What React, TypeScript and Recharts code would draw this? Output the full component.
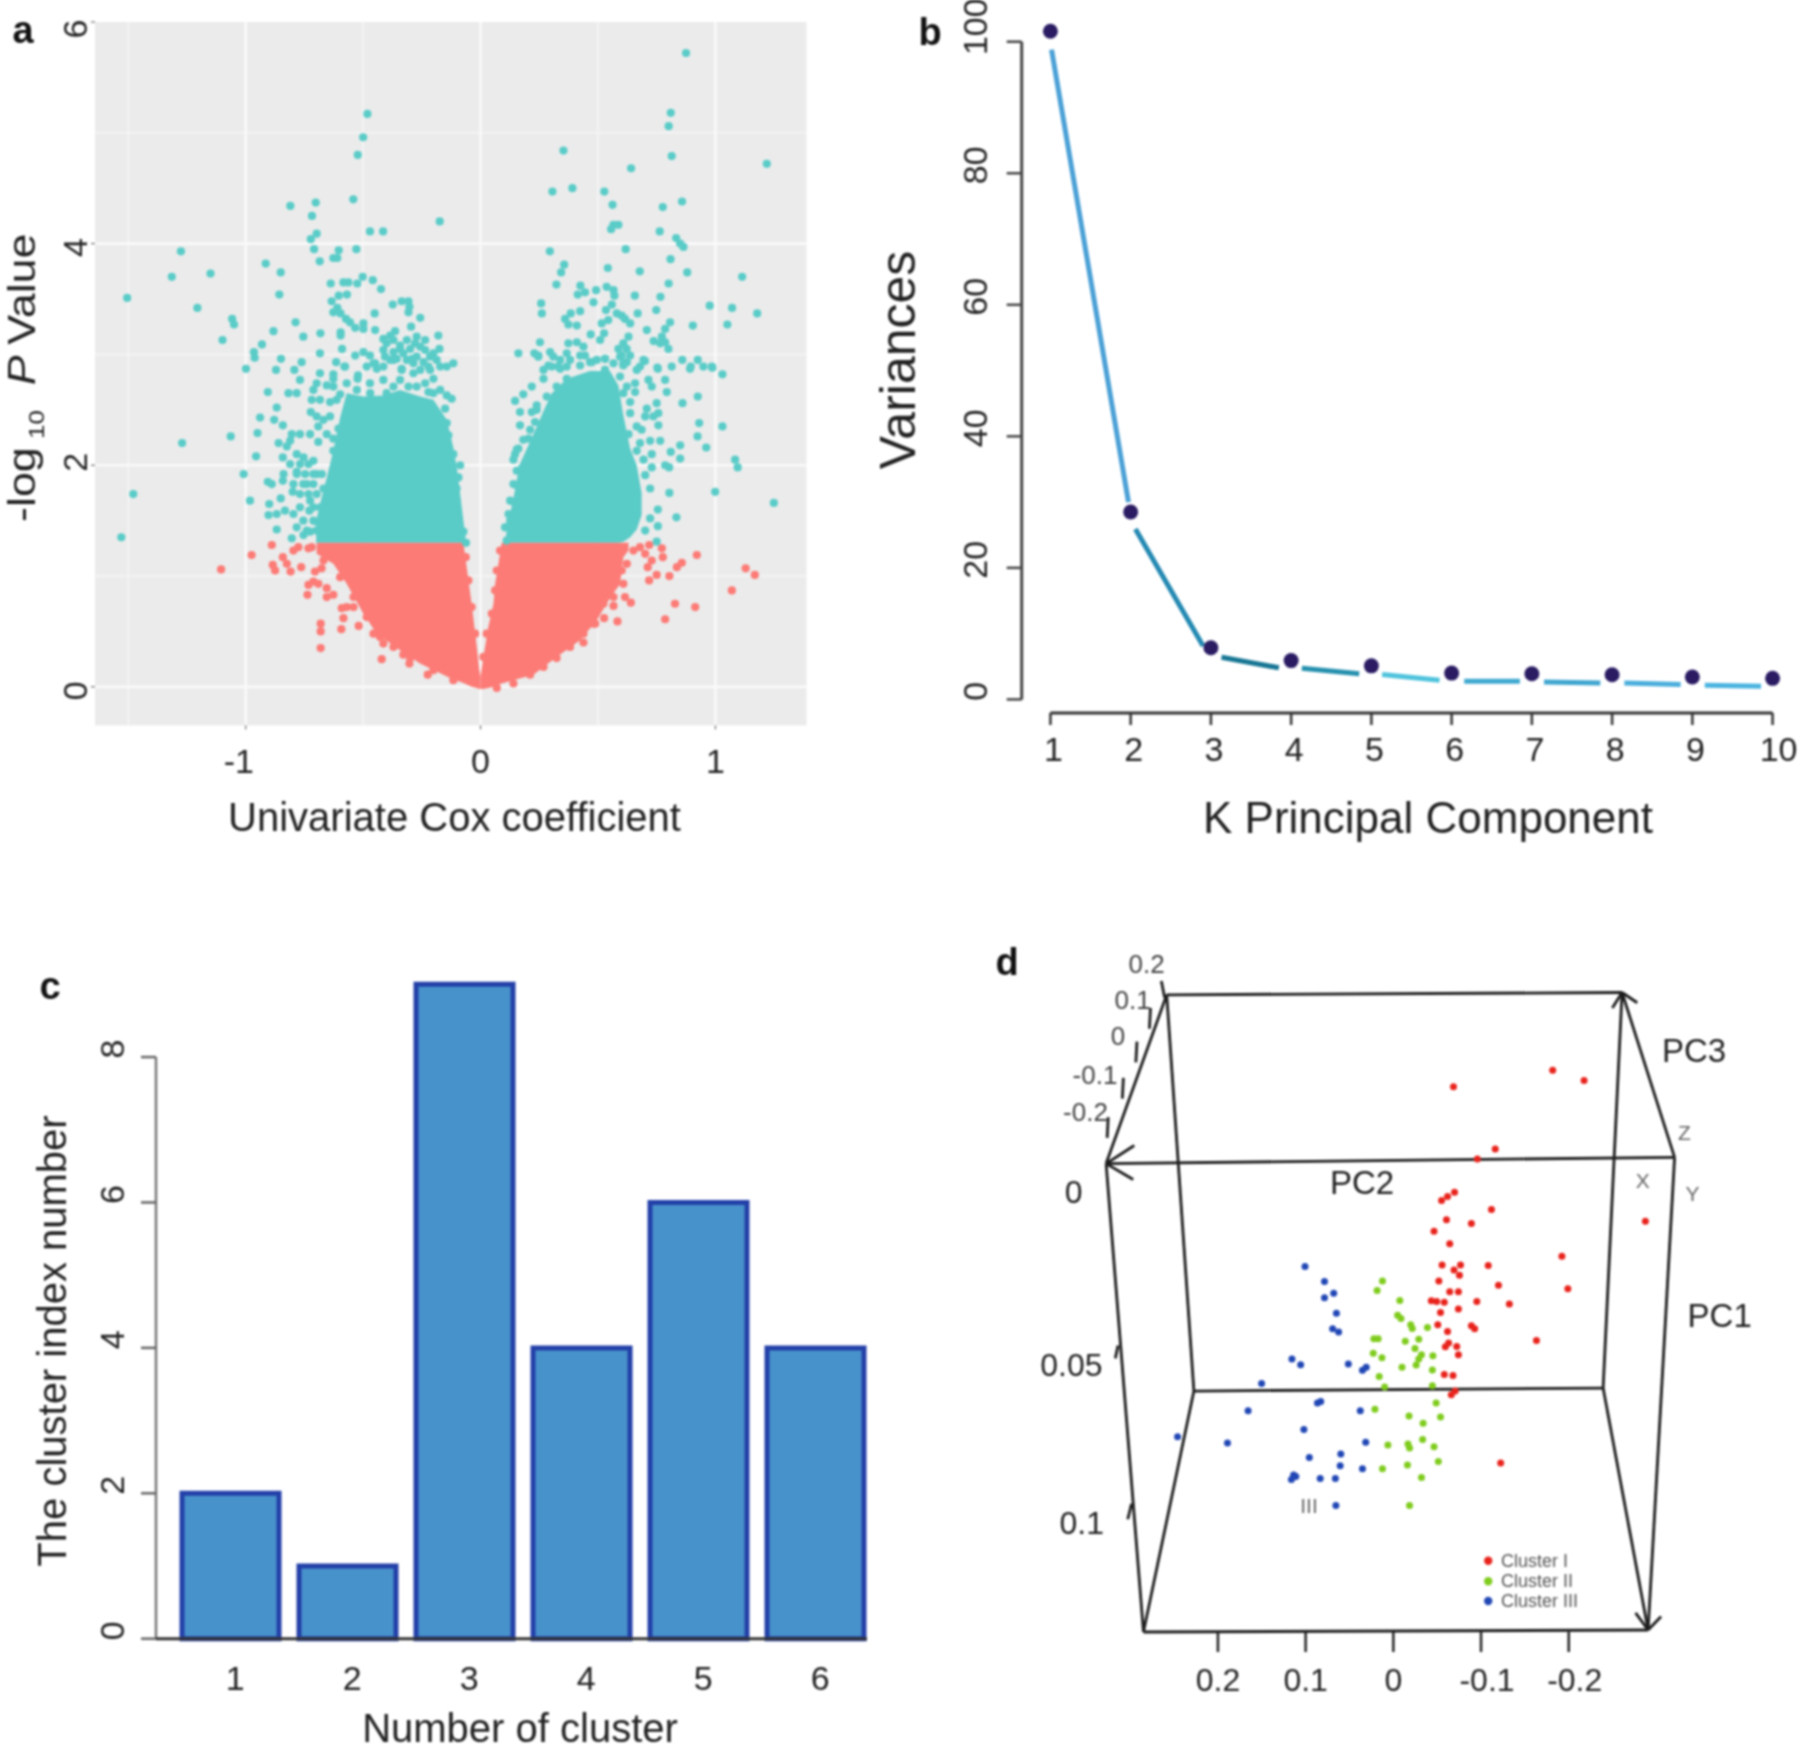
import React from "react"
import { ComposedChart, BarChart, ScatterChart, Area, Bar, Line, Scatter, XAxis, YAxis, CartesianGrid, ReferenceLine } from "recharts"

const FONT = "'Liberation Sans', Arial, sans-serif"

// panel a: sparse points, [coefficient, -log10 p]
const tealLeft = [
  [-0.482,5.17],[-0.5,4.96],[-0.523,4.8],[-0.542,4.4],[-0.81,4.34],[-0.702,4.37],[-0.718,4.25],[-0.174,4.2],[-0.471,4.11],[-0.415,4.11],
  [-0.698,4.09],[-0.723,4.04],[-0.709,3.95],[-0.604,3.94],[-0.627,3.87],[-0.61,3.87],[-0.529,3.95],[-0.685,3.84],[-1.276,3.93],[-1.315,3.7],
  [-1.15,3.73],[-1.505,3.51],[-0.915,3.82],[-0.851,3.74],[-0.857,3.54],[-1.206,3.42],[-1.058,3.32],[-1.05,3.27],[-1.099,3.13],[-0.788,3.29],
  [-0.882,3.21],[-0.755,3.16],[-0.682,3.19],[-0.931,3.09],[-0.965,3.02],[-0.962,2.97],[-0.85,2.96],[-0.762,2.93],[-0.684,3.01],[-0.59,3.05],
  [-0.615,2.93],[-0.58,2.89],[-0.596,3.2],[-0.596,3.17],[-0.999,2.87],[-0.871,2.86],[-0.793,2.86],[-0.638,3.64],[-0.584,3.65],[-0.563,3.65],
  [-0.525,3.64],[-0.502,3.7],[-0.459,3.67],[-0.424,3.59],[-0.604,3.53],[-0.569,3.54],[-0.634,3.48],[-0.61,3.42],[-0.627,3.38],[-0.596,3.37],
  [-0.573,3.32],[-0.556,3.29],[-0.534,3.24],[-0.499,3.28],[-0.499,3.23],[-0.449,3.22],[-0.451,3.37],[-0.374,3.45],[-0.336,3.48],[-0.307,3.48],
  [-0.303,3.43],[-0.307,3.38],[-0.257,3.33],[-0.296,3.25],[-0.364,3.21],[-0.385,3.17],[-0.414,3.14],[-0.18,3.17],[-0.272,3.16],[-0.236,3.13],
  [-0.175,3.05],[-0.534,2.99],[-0.499,3.02],[-0.471,2.99],[-0.449,2.92],[-0.414,3.04],[-0.371,3.02],[-0.343,3.05],[-0.3,3.05],[-0.257,3.07],
  [-0.357,2.96],[-0.314,2.95],[-0.215,2.98],[-0.144,2.89],[-0.286,2.92],[-0.243,2.93],[-0.442,2.87],[-0.336,2.87],[-0.684,2.83],[-0.627,2.82],
  [-0.769,2.77],[-0.906,2.66],[-0.818,2.65],[-0.783,2.65],[-0.712,2.68],[-0.719,2.59],[-0.723,2.48],[-0.868,2.52],[-0.641,2.57],[-0.655,2.72],
  [-0.524,2.78],[-0.939,2.43],[-0.879,2.41],[-0.842,2.36],[-0.95,2.29],[-1.064,2.26],[-1.271,2.2],[-0.804,2.28],[-0.811,2.22],[-0.86,2.2],
  [-0.956,2.08],[-0.842,2.07],[-0.825,2.17],[-0.783,2.1],[-1.009,1.92],[-0.839,1.92],[-0.906,1.85],[-0.889,1.83],[-0.842,1.86],[-1.479,1.74],
  [-0.982,1.68],[-0.8,1.76],[-0.9,1.65],[-0.851,1.7],[-0.903,1.55],[-0.868,1.56],[-0.833,1.59],[-0.797,1.56],[-0.729,1.59],[-0.868,1.42],
  [-0.783,1.44],[-0.804,1.34],[-0.754,1.37],[-0.726,1.4],[-1.53,1.35],[-0.691,2.35],[-0.669,2.41],[-0.627,2.24],[-0.691,2.21],[-0.754,2.07],
  [-0.712,2.04],[-0.783,1.94],[-0.74,1.83],[-0.698,1.92],[-0.726,1.68],[-0.669,1.79],[-0.683,1.62],[-0.698,1.49],[-0.655,1.41],[-0.605,2.33],
  [-0.577,2.38],[-0.563,2.19],[-0.527,2.16],[-0.627,2.71],[-0.598,2.64],[-0.456,2.92],[-0.414,2.89],[-0.371,2.95],[-0.336,2.86],[-0.293,2.96],
  [-0.257,2.86],[-0.201,2.78],[-0.172,2.89],[-0.116,2.92],[-0.236,2.74],[-0.222,2.66],[-0.144,2.63],[-0.123,2.6],[-0.151,2.51],[-0.144,2.38],
  [-0.137,2.27],[-0.137,2.13],[-0.116,2.1],[-0.087,2.0],[-0.13,1.98],[-0.527,2.57],[-0.47,2.65],[-0.414,2.77],[-0.371,2.71],[-0.307,2.71],
  [-0.286,2.83],[-0.485,2.89],[-0.577,2.89],[-0.522,2.81],[-0.094,1.89],[-0.102,1.79],[-0.102,1.68],[-0.102,1.56],[-0.094,1.47],[-0.073,1.4],[-0.062,1.3],
  [-0.811,2.01],[-0.769,2.01],[-0.733,2.01],[-0.783,1.92],[-0.747,1.92],[-0.712,1.92],[-0.676,1.92],[-0.797,1.83],[-0.755,1.83],[-0.712,1.83],
  [-0.769,1.74],[-0.733,1.74],[-0.698,1.74],[-0.769,1.62],[-0.712,1.62],[-0.755,1.5],[-0.712,1.5],[-0.74,1.41],[-0.698,1.41],[-0.769,2.28],
  [-0.726,2.28],[-0.698,2.44],[-0.655,2.28],[-0.627,2.13],[-0.684,2.59],[-0.641,2.44],[-0.613,2.59],[-0.698,2.74],[-0.627,2.78],[-0.57,2.74],
  [-0.527,2.68],[-0.471,2.74],[-0.4,2.65],[-0.343,2.77],[-0.272,2.71],[-0.215,2.86],[-0.172,2.68],[-0.201,2.65],[-0.4,3.1],[-0.371,3.13],
  [-0.343,3.08],[-0.314,3.13],[-0.279,3.1],[-0.236,3.04],[-0.201,3.01],[-0.385,2.95],[-0.329,3.01],[-0.272,2.98],[-0.222,2.89],[-0.187,2.95],[-0.407,2.98],
]
const tealRight = [
  [0.875,5.72],[0.81,5.18],[0.801,5.06],[0.814,4.79],[1.219,4.72],[0.353,4.84],[0.641,4.68],[0.306,4.47],[0.391,4.5],[0.527,4.47],
  [0.562,4.35],[0.858,4.38],[0.776,4.33],[0.566,4.17],[0.587,4.17],[0.556,4.13],[0.763,4.11],[0.833,4.05],[0.85,4.0],[0.864,3.97],
  [0.618,3.95],[0.295,3.93],[0.809,3.86],[0.356,3.81],[0.343,3.74],[0.542,3.78],[0.678,3.75],[0.88,3.74],[1.114,3.7],[0.323,3.63],
  [0.801,3.64],[0.425,3.62],[0.414,3.54],[0.492,3.58],[0.537,3.61],[0.566,3.58],[0.57,3.53],[0.445,3.56],[0.657,3.53],[0.766,3.52],
  [0.481,3.47],[0.258,3.46],[0.261,3.37],[0.559,3.45],[0.534,3.4],[0.976,3.44],[1.071,3.42],[1.178,3.37],[0.424,3.39],[0.384,3.37],
  [0.748,3.4],[0.669,3.37],[0.58,3.37],[0.601,3.35],[0.615,3.32],[0.36,3.32],[0.374,3.27],[0.41,3.26],[0.637,3.28],[0.516,3.28],
  [0.544,3.31],[0.807,3.29],[0.904,3.26],[1.051,3.27],[0.786,3.23],[0.708,3.22],[0.469,3.18],[0.526,3.19],[0.509,3.13],[0.772,3.16],
  [0.737,3.12],[0.765,3.1],[0.786,3.11],[0.8,3.05],[0.253,3.11],[0.161,3.01],[0.229,3.01],[0.246,2.98],[0.296,3.02],[0.31,2.98],
  [0.374,3.1],[0.41,3.11],[0.438,3.07],[0.367,3.01],[0.445,2.99],[0.473,2.93],[0.63,3.16],[0.608,3.1],[0.587,3.05],[0.622,3.05],
  [0.601,2.99],[0.637,2.99],[0.53,2.96],[0.694,2.95],[0.859,2.95],[0.925,2.95],[0.895,2.89],[0.985,2.89],[0.814,2.89],[0.753,2.88],
  [0.289,2.9],[0.331,2.89],[0.608,2.92],[0.679,2.89],[0.892,2.87],[0.949,2.89],[0.987,2.88],[1.03,2.82],[0.755,2.87],[0.786,2.77],
  [0.793,2.66],[0.925,2.62],[0.86,2.56],[0.931,2.38],[1.03,2.35],[0.924,2.26],[0.961,2.16],[0.85,2.18],[0.81,2.12],[0.85,2.06],
  [1.084,2.05],[1.095,1.98],[0.786,2.0],[0.803,1.98],[0.999,1.76],[0.804,1.75],[1.249,1.66],[0.834,1.53],[0.755,1.6],[0.755,1.45],
  [0.722,1.52],[0.701,1.41],[0.75,1.31],[0.722,1.79],[0.729,1.98],[0.701,1.91],[0.729,2.1],[0.765,2.22],[0.757,2.36],[0.757,2.47],
  [0.75,2.56],[0.708,2.51],[0.701,2.44],[0.729,2.71],[0.715,2.77],[0.658,2.74],[0.658,2.66],[0.637,2.57],[0.665,2.86],[0.7,2.94],
  [0.623,2.93],[0.147,2.58],[0.168,2.48],[0.182,2.64],[0.218,2.71],[0.239,2.54],[0.218,2.48],[0.168,2.36],[0.204,2.24],[0.232,2.39],
  [0.268,2.78],[0.303,2.89],[0.339,2.95],[0.246,2.99],[0.147,2.1],[0.161,2.15],[0.14,2.05],[0.154,1.82],[0.14,1.67],[0.126,1.5],
  [0.111,1.44],[0.111,1.32],[0.175,1.97],[0.424,2.99],[0.466,2.93],[0.53,2.96],[0.594,2.98],[0.608,2.9],[0.381,2.95],[0.339,2.87],
  [0.608,2.65],[0.637,2.47],[0.665,2.35],[0.63,2.28],[0.679,2.2],[0.722,2.22],[0.665,2.13],[0.694,2.05],[0.623,2.71],[0.686,2.32],
  [0.736,2.44],[0.594,2.8],[0.268,2.86],[0.367,2.89],[0.424,2.9],[0.495,2.95],[0.566,2.92],[0.53,2.86],[0.154,2.14],[0.182,2.23],
  [0.211,2.32],[0.239,2.5],[0.282,2.62],[0.324,2.71],[0.367,2.78],[0.104,1.44],[0.119,1.56],[0.126,1.68],[0.14,1.83],[0.154,1.95],
]
const redSparse = [
  [-0.889,1.28],[-0.975,1.19],[-1.105,1.06],[-0.842,1.17],[-0.825,1.11],[-0.885,1.1],[-0.875,1.05],[-0.809,1.04],[-0.764,1.08],[-0.797,1.23],
  [-0.776,1.26],[-0.733,1.25],[-0.719,1.26],[-0.705,1.04],[-0.677,1.07],[-0.712,0.95],[-0.733,0.92],[-0.691,0.93],[-0.737,0.83],[-0.655,0.89],
  [-0.655,0.81],[-0.627,0.83],[-0.591,0.71],[-0.57,0.72],[-0.584,0.62],[-0.681,0.57],[-0.681,0.5],[-0.681,0.35],[-0.593,0.52],[-0.519,0.55],
  [-0.421,0.25],[-0.303,0.21],[-0.225,0.11],[-0.414,0.39],[-0.456,0.48],[-0.329,0.29],[-0.541,0.72],[-0.063,1.17],[-0.052,0.96],[-0.038,0.72],[-0.023,0.48],
  [-0.669,1.14],[-0.598,0.99],[-0.541,0.81],[-0.485,0.63],[-0.428,0.45],[-0.371,0.36],[-0.3,0.26],[-0.201,0.15],[-0.116,0.06],
  [0.921,1.19],[0.718,1.28],[0.679,1.26],[0.701,1.2],[0.772,1.25],[0.776,1.17],[0.729,1.14],[0.712,1.08],[0.857,1.12],[0.836,1.08],
  [0.75,1.01],[0.804,1.0],[0.718,0.96],[1.129,1.07],[1.168,1.01],[1.07,0.87],[0.828,0.75],[0.914,0.72],[0.786,0.61],[0.583,0.59],
  [0.615,0.81],[0.64,0.76],[0.566,0.73],[0.526,0.62],[0.488,0.57],[0.438,0.4],[0.608,0.93],[0.623,1.11],
  [0.566,0.81],[0.523,0.75],[0.481,0.57],[0.438,0.48],[0.381,0.36],[0.324,0.26],[0.268,0.18],[0.211,0.11],[0.14,0.03],[0.069,-0.01],
  [0.651,1.23],[0.601,1.05],[0.573,0.93],[0.083,1.23],[0.069,1.05],[0.062,0.87],[0.048,0.66],[0.026,0.48],[0.012,0.27],
]
// outlines of the solid masses: x, lower edge, upper edge
const tealMassLeftX = [-0.7,-0.684,-0.655,-0.627,-0.598,-0.57,-0.499,-0.414,-0.343,-0.257,-0.201,-0.144,-0.116,-0.099,-0.062]
const tealMassLeftHigh = [1.5,1.65,1.89,2.13,2.43,2.65,2.62,2.63,2.68,2.62,2.59,2.41,2.16,1.95,1.31]
const tealMassRightX = [0.104,0.119,0.14,0.165,0.225,0.268,0.303,0.367,0.466,0.551,0.587,0.608,0.637,0.665,0.686]
const tealMassRightLow = [1.3,1.3,1.3,1.3,1.3,1.3,1.3,1.3,1.3,1.3,1.3,1.31,1.35,1.42,1.55]
const tealMassRightHigh = [1.31,1.5,1.7,2.0,2.28,2.49,2.65,2.78,2.85,2.85,2.72,2.45,2.15,2.0,1.75]
const redMassLeftX = [-0.698,-0.627,-0.57,-0.499,-0.442,-0.343,-0.258,-0.13,-0.073,-0.059,-0.038,-0.016,-0.005,0]
const redMassLeftLow = [1.2,1.11,0.93,0.66,0.48,0.33,0.21,0.08,0.035,0.02,0.0,-0.01,-0.02,-0.02]
const redMassLeftHigh = [1.3,1.3,1.3,1.3,1.3,1.3,1.3,1.3,1.3,1.08,0.75,0.36,0.15,0.09]
const redMassRightX = [0,0.012,0.033,0.055,0.062,0.076,0.09,0.225,0.324,0.424,0.495,0.545,0.594,0.608,0.63]
const redMassRightLow = [-0.02,-0.02,-0.01,0,0,0.02,0.03,0.11,0.27,0.42,0.6,0.78,0.93,1.17,1.23]
const redMassRightHigh = [0.09,0.27,0.54,0.75,0.93,1.11,1.3,1.3,1.3,1.3,1.3,1.3,1.3,1.3,1.3]

// panel b
const components = [1,2,3,4,5,6,7,8,9,10]
const variances = [101.6,28.5,7.85,5.9,5.1,4.0,3.9,3.75,3.4,3.2]
const varianceSegments = [
  [1.014,98.8,1.973,30.0,"#4aa0d6"],[2.059,25.9,2.903,8.1,"#2489b2"],[3.132,6.4,3.847,4.8,"#177694"],[4.133,4.75,4.848,3.9,"#2590ae"],
  [5.134,3.8,5.85,2.9,"#4fc3dd"],[6.157,2.75,6.851,2.75,"#3fa9d0"],[7.152,2.65,7.853,2.5,"#3fa6d0"],[8.153,2.5,8.854,2.25,"#4aaedc"],[9.155,2.15,9.856,2.0,"#4ab4e0"],
]

// panel c
const clusterNumbers = [1,2,3,4,5,6]
const clusterCounts = [2,1,9,4,6,4]

// panel d: projected (PC2, PC1) positions
const clusterOne = [
  [-0.0686,-0.032],[-0.1817,-0.037],[-0.2175,-0.0339],[-0.1162,-0.0131],[-0.0958,-0.0101],[-0.2874,0.0088],[-0.0698,0],[-0.0618,0.0013],[-0.055,0.0025],[-0.1119,0.0052],
  [-0.0606,0.0083],[-0.089,0.0095],[-0.0464,0.0118],[-0.0643,0.0156],[-0.1922,0.0194],[-0.0556,0.0221],[-0.0766,0.0221],[-0.1082,0.0222],[-0.0692,0.0236],[-0.0754,0.0252],
  [-0.0519,0.0269],[-0.1199,0.0282],[-0.199,0.0293],[-0.0643,0.0302],[-0.0742,0.0302],[-0.0433,0.0329],[-0.0494,0.0331],[-0.0581,0.0334],[-0.0952,0.0331],[-0.1323,0.0339],
  [-0.0742,0.0354],[-0.0538,0.0365],[-0.0507,0.0402],[-0.089,0.0405],[-0.0927,0.0414],[-0.0618,0.0422],[-0.1632,0.045],[-0.063,0.0457],[-0.0593,0.0469],[-0.0723,0.0468],
  [-0.0742,0.0493],[-0.0581,0.0553],[-0.068,0.0556],[-0.0705,0.0603],[-0.0661,0.0614],[-0.1224,0.0821],
]
const clusterTwo = [
  [0.0124,0.0269],[0.0185,0.0298],[-0.0074,0.0328],[-0.0049,0.0373],[-0.0087,0.0383],[-0.0198,0.0402],[-0.0216,0.0413],[-0.0389,0.041],[0.0222,0.0444],[0.0173,0.0444],
  [-0.0136,0.0452],[-0.029,0.0446],[-0.0247,0.0474],[0.0229,0.0488],[0.013,0.0502],[-0.0321,0.0493],[-0.029,0.0506],[-0.0451,0.0496],[-0.026,0.0524],[-0.0099,0.0531],
  [-0.0445,0.0539],[0.0161,0.0559],[0.0099,0.0591],[-0.0445,0.0587],[-0.0488,0.0639],[0.021,0.0658],[-0.0179,0.0679],[-0.0538,0.0682],[-0.034,0.0701],[-0.0334,0.075],
  [0.0062,0.0767],[-0.0167,0.0764],[-0.0185,0.0776],[-0.0464,0.0772],[-0.0161,0.0827],[-0.0513,0.0817],[0.0124,0.0839],[-0.0321,0.0865],[-0.0185,0.095],
]
const clusterThree = [
  [0.1007,0.0225],[0.0785,0.0271],[0.068,0.0306],[0.0785,0.032],[0.0649,0.0367],[0.0692,0.0414],[0.0624,0.0424],[0.1156,0.0506],[0.1057,0.0523],[0.0513,0.0521],
  [0.0309,0.0531],[0.0352,0.054],[0.1502,0.058],[0.0865,0.0639],[0.0828,0.0635],[0.0377,0.0663],[0.1656,0.0663],[0.102,0.072],[0.246,0.0742],[0.1891,0.0761],
  [0.0315,0.0758],[0.0599,0.0794],[0.0958,0.0805],[0.0606,0.083],[0.0352,0.0839],[0.1137,0.0858],[0.1112,0.0862],[0.1162,0.0871],[0.0834,0.0868],[0.0661,0.0868],[0.0655,0.095],
]
const legendDots = [[-0.1082,0.1118,"#e8231c"],[-0.1082,0.118,"#7fcc1e"],[-0.1082,0.124,"#2147b5"]]
const legendNames = ["Cluster I","Cluster II","Cluster III"]
const boxEdges = [
  [0.2584,-0.0599,-0.2608,-0.0606],[0.3275,-0.0087,-0.3207,-0.0106],[0.2584,-0.0599,0.3275,-0.0087],[-0.2608,-0.0606,-0.3207,-0.0106],
  [0.2584,-0.0599,0.2274,0.0603],[-0.2608,-0.0606,-0.2392,0.0594],[0.2274,0.0603,-0.2392,0.0594],[0.3275,-0.0087,0.2849,0.1334],
  [-0.3207,-0.0106,-0.2905,0.1328],[0.2849,0.1334,-0.2905,0.1328],[0.2274,0.0603,0.2849,0.1334],[-0.2392,0.0594,-0.2905,0.1328],
  [0.3275,-0.0087,0.2954,-0.0142],[0.3275,-0.0087,0.2966,-0.0039],[-0.2608,-0.0606,-0.2497,-0.0559],[-0.2608,-0.0606,-0.2781,-0.0575],
  [-0.2905,0.1328,-0.2762,0.1276],[-0.2905,0.1328,-0.3053,0.1287],
  [0.2645,-0.0641,0.2608,-0.0591],[0.2769,-0.0559,0.2781,-0.0496],[0.2923,-0.0457,0.2936,-0.0394],[0.3078,-0.0347,0.309,-0.0284],[0.3251,-0.0228,0.3263,-0.0165],
  [0.3139,0.0465,0.317,0.0504],[0.2985,0.0945,0.3028,0.0992],
]

const toPoints = (list) => list.map((p) => ({ x: p[0], y: p[1] }))
const zipBand = (xs, low, high) => xs.map((x, i) => ({ x, band: [low[i], high[i]] }))

const dot = (r, fill) => (props) => <circle cx={props.cx} cy={props.cy} r={r} fill={fill} />

const rotTick = (cx, size, fill, shift) => ({ y, payload }) => {
  const cy = y + shift(payload.value)
  return (
    <text x={cx} y={cy} transform={`rotate(-90 ${cx} ${cy})`} textAnchor="middle" dominantBaseline="central" fontSize={size} fill={fill} fontFamily={FONT}>
      {payload.value}
    </text>
  )
}
const flatTick = (cy, size, fill, shift) => ({ x, payload }) => (
  <text x={x + shift(payload.value)} y={cy} textAnchor="middle" dominantBaseline="central" fontSize={size} fill={fill} fontFamily={FONT}>
    {payload.value}
  </text>
)
const Txt = ({ x, y, size, fill = "#222", rot = 0, anchor = "middle", bold = false, children }) => (
  <text x={x} y={y} fontSize={size} fill={fill} fontFamily={FONT} textAnchor={anchor} dominantBaseline="central" fontWeight={bold ? "bold" : "normal"}
    transform={rot ? `rotate(${rot} ${x} ${y})` : undefined}>
    {children}
  </text>
)

const box = (left, top, width, height) => ({ position: "absolute", left, top, width, height, filter: "blur(0.8px)" })

const TEAL = "#5accc8"
const RED = "#fc7b76"

const PanelA = () => (
  <div style={box(0, 0, 860, 860)}>
    <ComposedChart width={860} height={860} margin={{ top: 22, right: 53.5, bottom: 0, left: 0 }}>
      <CartesianGrid fill="#ebebeb" stroke="#f6f6f6" strokeWidth={1.5} horizontalValues={[1, 3, 5]} verticalValues={[-1.5, -0.5, 0.5]} />
      <CartesianGrid fill="none" stroke="#fafafa" strokeWidth={2.6} horizontalValues={[0, 2, 4]} verticalValues={[-1, 0, 1]} />
      <XAxis dataKey="x" type="number" domain={[-1.642, 1.388]} ticks={[-1, 0, 1]} height={134.6} axisLine={false} tickSize={4} stroke="#555" interval={0}
        tick={flatTick(761, 34, "#222", (v) => (v < 0 ? -7 : 0))} />
      <YAxis dataKey="y" type="number" domain={[-0.348, 6]} ticks={[0, 2, 4, 6]} width={95} axisLine={false} tickSize={4} stroke="#555" interval={0}
        tick={rotTick(75, 34, "#222", (v) => (v === 6 ? 7 : v === 2 ? -3 : 4))} />
      <Area data={zipBand(tealMassLeftX, tealMassLeftX.map(() => 1.3), tealMassLeftHigh)} dataKey="band" stroke="none" fill={TEAL} fillOpacity={1} dot={false} activeDot={false} isAnimationActive={false} />
      <Area data={zipBand(tealMassRightX, tealMassRightLow, tealMassRightHigh)} dataKey="band" stroke="none" fill={TEAL} fillOpacity={1} dot={false} activeDot={false} isAnimationActive={false} />
      <Scatter data={toPoints(tealLeft)} shape={dot(4.1, TEAL)} isAnimationActive={false} />
      <Scatter data={toPoints(tealRight)} shape={dot(4.1, TEAL)} isAnimationActive={false} />
      <Area data={zipBand(redMassLeftX, redMassLeftLow, redMassLeftHigh)} dataKey="band" stroke="none" fill={RED} fillOpacity={1} dot={false} activeDot={false} isAnimationActive={false} />
      <Area data={zipBand(redMassRightX, redMassRightLow, redMassRightHigh)} dataKey="band" stroke="none" fill={RED} fillOpacity={1} dot={false} activeDot={false} isAnimationActive={false} />
      <Scatter data={toPoints(redSparse)} shape={dot(4.1, RED)} isAnimationActive={false} />
      {/* the source figure is stretched along its height, so the title is too */}
      <text transform="translate(35 522) rotate(-90) scale(1.18 1)" fontSize={38} fill="#222" fontFamily={FONT}>
        <tspan>-log</tspan>
        <tspan dx={7} dy={9} fontSize={22}>10</tspan>
        <tspan dx={21} dy={-9} fontStyle="italic">P</tspan>
        <tspan dx={9}>Value</tspan>
      </text>
      <Txt x={454.5} y={817} size={40}>Univariate Cox coefficient</Txt>
      <Txt x={23} y={30} size={38} fill="#111" bold>a</Txt>
    </ComposedChart>
  </div>
)

const PanelB = () => (
  <div style={box(860, 0, 940, 860)}>
    <ComposedChart width={940} height={860} margin={{ top: 2, right: 10, bottom: 0, left: 0 }}>
      <XAxis dataKey="x" type="number" domain={[0.642, 10.217]} ticks={components} height={147} axisLine={false} tickSize={12} stroke="#333" strokeWidth={2.5} interval={0}
        tick={flatTick(749, 34, "#222", (v) => (v === 10 ? 6 : 3))} />
      <YAxis dataKey="y" type="number" domain={[-2.07, 106.04]} ticks={[0, 20, 40, 60, 80, 100]} width={161.7} axisLine={false} tickSize={15} stroke="#444" strokeWidth={2.5} interval={0}
        tick={rotTick(115, 34, "#222", (v) => (v === 100 ? -15 : -8))} />
      <ReferenceLine segment={[{ x: 0.642, y: 0 }, { x: 0.642, y: 100 }]} stroke="#444" strokeWidth={3} ifOverflow="visible" />
      <ReferenceLine segment={[{ x: 1, y: -2.07 }, { x: 10, y: -2.07 }]} stroke="#333" strokeWidth={3} ifOverflow="visible" />
      {varianceSegments.map((s, i) => (
        <Line key={i} data={[{ x: s[0], v: s[1] }, { x: s[2], v: s[3] }]} dataKey="v" stroke={s[4]} strokeWidth={5} dot={false} activeDot={false} isAnimationActive={false} />
      ))}
      <Scatter data={components.map((k, i) => ({ x: k, y: variances[i] }))} shape={dot(7.5, "#2a1b63")} isAnimationActive={false} />
      <Txt x={38} y={360} size={50} rot={-90}>Variances</Txt>
      <Txt x={568} y={817} size={44}>K Principal Component</Txt>
      <Txt x={70} y={32} size={38} fill="#111" bold>b</Txt>
    </ComposedChart>
  </div>
)

const PanelC = () => (
  <div style={box(0, 880, 900, 864)}>
    <BarChart width={900} height={864} data={clusterNumbers.map((n, i) => ({ n, count: clusterCounts[i] }))} margin={{ top: 68, right: 33, bottom: 0, left: 0 }} barSize={97}>
      <XAxis dataKey="n" type="number" domain={[0.363, 6.44]} ticks={clusterNumbers} height={105.3} tickLine={false} axisLine={{ stroke: "#333", strokeWidth: 3 }} interval={0}
        tick={flatTick(798, 34, "#222", () => 4.6)} />
      <YAxis type="number" domain={[0, 9.5]} ticks={[0, 2, 4, 6, 8]} width={156} axisLine={false} tickSize={15} stroke="#666" strokeWidth={2.5} interval={0}
        tick={rotTick(112, 34, "#222", () => -8)} />
      <ReferenceLine segment={[{ x: 0.363, y: 0 }, { x: 0.363, y: 8 }]} stroke="#777" strokeWidth={2.5} ifOverflow="visible" />
      <Bar dataKey="count" fill="#4892cc" stroke="#2340a8" strokeWidth={5} isAnimationActive={false} />
      <Txt x={52} y={461} size={40} rot={-90}>The cluster index number</Txt>
      <Txt x={520} y={848} size={40}>Number of cluster</Txt>
      <Txt x={50} y={106} size={38} fill="#111" bold>c</Txt>
    </BarChart>
  </div>
)

const smallLabels = [["0.2", 246.7, 83.7], ["0.1", 232.7, 120], ["0", 218, 156.4], ["-0.1", 195, 195], ["-0.2", 185.5, 231.7]]
const sideLabels = [["0", 173.6, 312], ["0.05", 171.4, 485], ["0.1", 181.7, 643]]
const nameLabels = [["PC2", 462, 302], ["PC3", 794, 170], ["PC1", 819.7, 435]]
const cornerLabels = [["X", 742.7, 300], ["Y", 792.5, 313.8], ["Z", 784.4, 252.5], ["III", 409, 625]]

const PanelD = () => (
  <div style={box(900, 880, 900, 864)}>
    <ScatterChart width={900} height={864} margin={{ top: 81.2, right: 37, bottom: 0, left: 158.4 }}>
      <XAxis dataKey="x" type="number" reversed domain={[-0.4215, 0.3819]} ticks={[0.2, 0.1, 0, -0.1, -0.2]} height={112} axisLine={false} tickSize={20} stroke="#222" strokeWidth={2.5} interval={0}
        tick={flatTick(800, 32, "#222", (v) => (v < 0 ? 6 : 0))} />
      <YAxis dataKey="y" type="number" reversed domain={[-0.0701, 0.1334]} hide />
      {boxEdges.map((e, i) => (
        <ReferenceLine key={i} segment={[{ x: e[0], y: e[1] }, { x: e[2], y: e[3] }]} stroke="#1c1c1c" strokeWidth={2.8} ifOverflow="visible" />
      ))}
      <Scatter data={toPoints(clusterOne)} shape={dot(3.5, "#e8231c")} isAnimationActive={false} />
      <Scatter data={toPoints(clusterTwo)} shape={dot(3.5, "#7fcc1e")} isAnimationActive={false} />
      <Scatter data={toPoints(clusterThree)} shape={dot(3.5, "#2147b5")} isAnimationActive={false} />
      {legendDots.map((d, i) => (
        <Scatter key={i} data={[{ x: d[0], y: d[1] }]} shape={dot(4.2, d[2])} isAnimationActive={false} />
      ))}
      {smallLabels.map((l) => <Txt key={l[0] + l[1]} x={l[1]} y={l[2]} size={26} fill="#444">{l[0]}</Txt>)}
      {sideLabels.map((l) => <Txt key={l[0] + l[1]} x={l[1]} y={l[2]} size={32}>{l[0]}</Txt>)}
      {nameLabels.map((l) => <Txt key={l[0]} x={l[1]} y={l[2]} size={33}>{l[0]}</Txt>)}
      {cornerLabels.map((l) => <Txt key={l[0]} x={l[1]} y={l[2]} size={21} fill="#666">{l[0]}</Txt>)}
      {legendNames.map((n, i) => <Txt key={n} x={601} y={681 + i * 20} size={18} fill="#555" anchor="start">{n}</Txt>)}
      <Txt x={107} y={82} size={38} fill="#111" bold>d</Txt>
    </ScatterChart>
  </div>
)

export default function App() {
  return (
    <div style={{ position: "absolute", left: 0, top: 0, width: 1800, height: 1744, background: "#fff", overflow: "hidden" }}>
      <PanelA />
      <PanelB />
      <PanelC />
      <PanelD />
    </div>
  )
}
